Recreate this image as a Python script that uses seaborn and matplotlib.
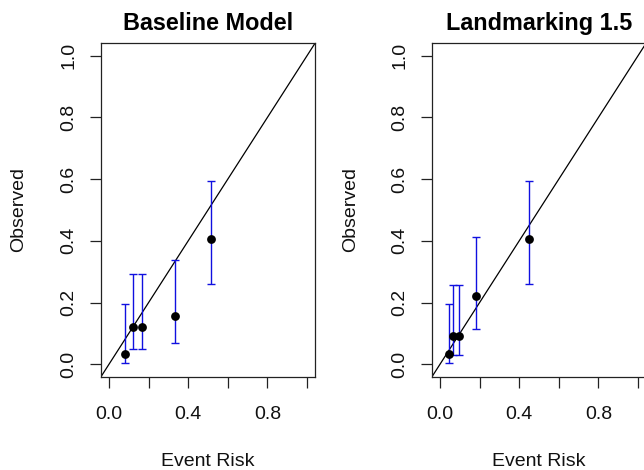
import matplotlib
matplotlib.use("Agg")
import matplotlib.pyplot as plt
import seaborn as sns
import numpy as np

# ---- data ----
panel_titles = ["Baseline Model", "Landmarking 1.5"]

base_risk = [0.081, 0.123, 0.169, 0.334, 0.514]
base_obs = [0.032, 0.122, 0.122, 0.156, 0.407]
base_lo = [0.005, 0.049, 0.049, 0.070, 0.261]
base_hi = [0.197, 0.292, 0.292, 0.338, 0.594]

lm_risk = [0.047, 0.068, 0.098, 0.182, 0.448]
lm_obs = [0.032, 0.092, 0.092, 0.223, 0.407]
lm_lo = [0.005, 0.030, 0.030, 0.113, 0.261]
lm_hi = [0.197, 0.257, 0.257, 0.412, 0.593]

x_ticks = [0.0, 0.2, 0.4, 0.6, 0.8, 1.0]
x_ticklabels = ["0.0", "", "0.4", "", "0.8", ""]
y_ticks = [0.0, 0.2, 0.4, 0.6, 0.8, 1.0]
y_ticklabels = ["0.0", "0.2", "0.4", "0.6", "0.8", "1.0"]

sns.set_style("ticks")
plt.rcParams["font.family"] = ["Liberation Sans", "DejaVu Sans"]

fig = plt.figure(figsize=(6.44, 4.70), dpi=100)
W, H = 644, 470
ax_w, ax_h = 214, 333.4
lefts = [101, 432]
bottom_px = 376.7

panels = [
    (base_risk, base_obs, base_lo, base_hi),
    (lm_risk, lm_obs, lm_lo, lm_hi),
]

for i, (risk, obs, lo, hi) in enumerate(panels):
    ax = fig.add_axes([lefts[i] / W, 1 - bottom_px / H, ax_w / W, ax_h / H])
    ax.set_facecolor("white")
    ax.set_xlim(-0.04, 1.04)
    ax.set_ylim(-0.04, 1.04)
    ax.axline((0, 0), slope=1, color="black", lw=0.9, zorder=1)
    obs_a = np.array(obs)
    yerr = [obs_a - np.array(lo), np.array(hi) - obs_a]
    ax.errorbar(risk, obs, yerr=yerr, fmt="none", ecolor="#1010e0",
                elinewidth=1.0, capsize=2.6, capthick=1.0, zorder=2)
    sns.scatterplot(x=risk, y=obs, ax=ax, color="black", s=40,
                    edgecolor="black", linewidth=0, zorder=3)
    for sp in ax.spines.values():
        sp.set_visible(True)
        sp.set_color("#222222")
        sp.set_linewidth(0.9)
    ax.set_xticks(x_ticks)
    ax.set_xticklabels(x_ticklabels)
    ax.set_yticks(y_ticks)
    ax.set_yticklabels(y_ticklabels, rotation=90, va="center")
    ax.tick_params(axis="both", direction="out", length=8, width=0.9,
                   color="#222222", labelsize=14, labelcolor="#111111")
    ax.tick_params(axis="x", pad=13)
    ax.tick_params(axis="y", pad=9)
    ax.set_title(panel_titles[i], fontsize=16.8, fontweight="bold",
                 pad=9.6, color="black")
    ax.set_xlabel("Event Risk", fontsize=14, color="#111111")
    ax.set_ylabel("Observed", fontsize=14, color="#111111")
    ax.xaxis.set_label_coords(0.5, -(462 - bottom_px) / ax_h)
    ax.xaxis.label.set_va("center")
    ax.yaxis.set_label_coords((19 + 332 * i - lefts[i]) / ax_w, 0.5)
    ax.yaxis.label.set_va("center")
    ax.yaxis.label.set_ha("center")

fig.savefig("out.png", dpi=100, facecolor="white")
